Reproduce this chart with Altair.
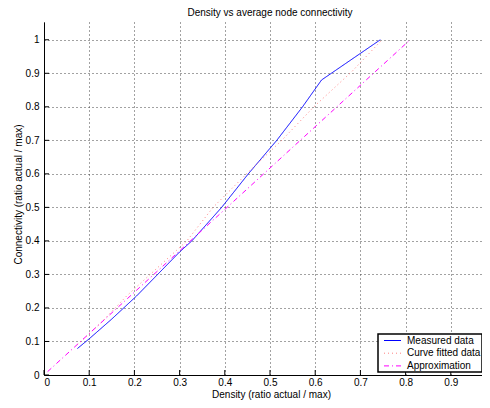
import altair as alt
import pandas as pd

# ---- data ----
measured_x = [0.074, 0.10, 0.15, 0.205, 0.25, 0.30, 0.327, 0.393, 0.452, 0.515, 0.572, 0.614, 0.744]
measured_y = [0.079, 0.108, 0.167, 0.236, 0.298, 0.367, 0.400, 0.500, 0.600, 0.700, 0.800, 0.880, 1.000]

fitted_x = [0.074, 0.127, 0.183, 0.316, 0.374, 0.448, 0.526, 0.597, 0.681, 0.748]
fitted_y = [0.091, 0.157, 0.236, 0.400, 0.500, 0.600, 0.700, 0.800, 0.905, 1.000]

approx_x = [0.008, 0.81]
approx_y = [0.010, 1.00]

series_names = ["Measured data", "Curve fitted data", "Approximation"]
series_colors = ["#0000ff", "#ff8080", "#ff00ff"]
series_dashes = [[1, 0], [1, 3], [5, 3, 1, 3]]

x_ticks = [0, 0.1, 0.2, 0.3, 0.4, 0.5, 0.6, 0.7, 0.8, 0.9]
y_ticks = [0, 0.1, 0.2, 0.3, 0.4, 0.5, 0.6, 0.7, 0.8, 0.9, 1.0]

rows = []
for name, xs, ys in zip(series_names, [measured_x, fitted_x, approx_x], [measured_y, fitted_y, approx_y]):
    for x, y in zip(xs, ys):
        rows.append({"series": name, "density": x, "connectivity": y})
df = pd.DataFrame(rows)

W, H = 438, 353
FONT = "Liberation Sans"

xscale = alt.Scale(domain=[0, 0.969], nice=False, zero=False)
yscale = alt.Scale(domain=[0, 1.053], nice=False, zero=False)

x_axis = alt.Axis(values=x_ticks, tickCount=10, labelOverlap=False, format="~g",
                  title="Density (ratio actual / max)", titleX=227, titleY=22,
                  titleBaseline="alphabetic")
y_axis = alt.Axis(values=y_ticks, tickCount=11, labelOverlap=False, format="~g",
                  title="Connectivity (ratio actual / max)", titleY=172)

legend = alt.Legend(
    title=None, orient="none", legendX=334, legendY=312,
    symbolType="M-1.7,0H1.7", symbolSize=100, symbolStrokeWidth=1,
    labelFontSize=10, labelFont=FONT, labelColor="black",
    strokeColor="black", fillColor="white", padding=1, rowPadding=1.7,
    symbolOffset=8, labelOffset=9, cornerRadius=0,
)

lines = alt.Chart(df).mark_line(strokeWidth=1).encode(
    x=alt.X("density:Q", scale=xscale, axis=x_axis),
    y=alt.Y("connectivity:Q", scale=yscale, axis=y_axis),
    color=alt.Color("series:N", scale=alt.Scale(domain=series_names, range=series_colors), legend=legend),
    strokeDash=alt.StrokeDash("series:N", scale=alt.Scale(domain=series_names, range=series_dashes), legend=legend),
)

xt = alt.Chart(pd.DataFrame({"density": x_ticks})).mark_rule(color="black", strokeWidth=1).encode(
    x=alt.X("density:Q", scale=xscale, axis=x_axis), y=alt.value(H), y2=alt.value(H - 5)
)
yt = alt.Chart(pd.DataFrame({"connectivity": y_ticks})).mark_rule(color="black", strokeWidth=1).encode(
    y=alt.Y("connectivity:Q", scale=yscale, axis=y_axis), x=alt.value(0), x2=alt.value(5)
)

chart = alt.layer(lines, xt, yt).properties(
    width=W, height=H,
    autosize=alt.AutoSizeParams(type="none"),
    padding={"left": 36, "top": 14, "right": 0, "bottom": 25},
    title=alt.TitleParams("Density vs average node connectivity", fontSize=10, fontWeight="normal",
                          font=FONT, color="black", offset=4, dx=7),
).configure(font=FONT).configure_axis(
    domainColor="black", domainWidth=1, ticks=False,
    labelFont=FONT, labelFontSize=10, labelColor="black",
    titleFont=FONT, titleFontSize=10, titleFontWeight="normal", titleColor="black",
    gridColor="#444444", gridDash=[1, 3], gridWidth=1, grid=True,
).configure_axisX(labelPadding=2, titlePadding=0).configure_axisY(labelPadding=5, titlePadding=2).configure_legend(
    strokeWidth=1.5
).configure_view(
    strokeWidth=0
)

chart.save("out.html", embed_options={"renderer": "svg", "actions": False})
